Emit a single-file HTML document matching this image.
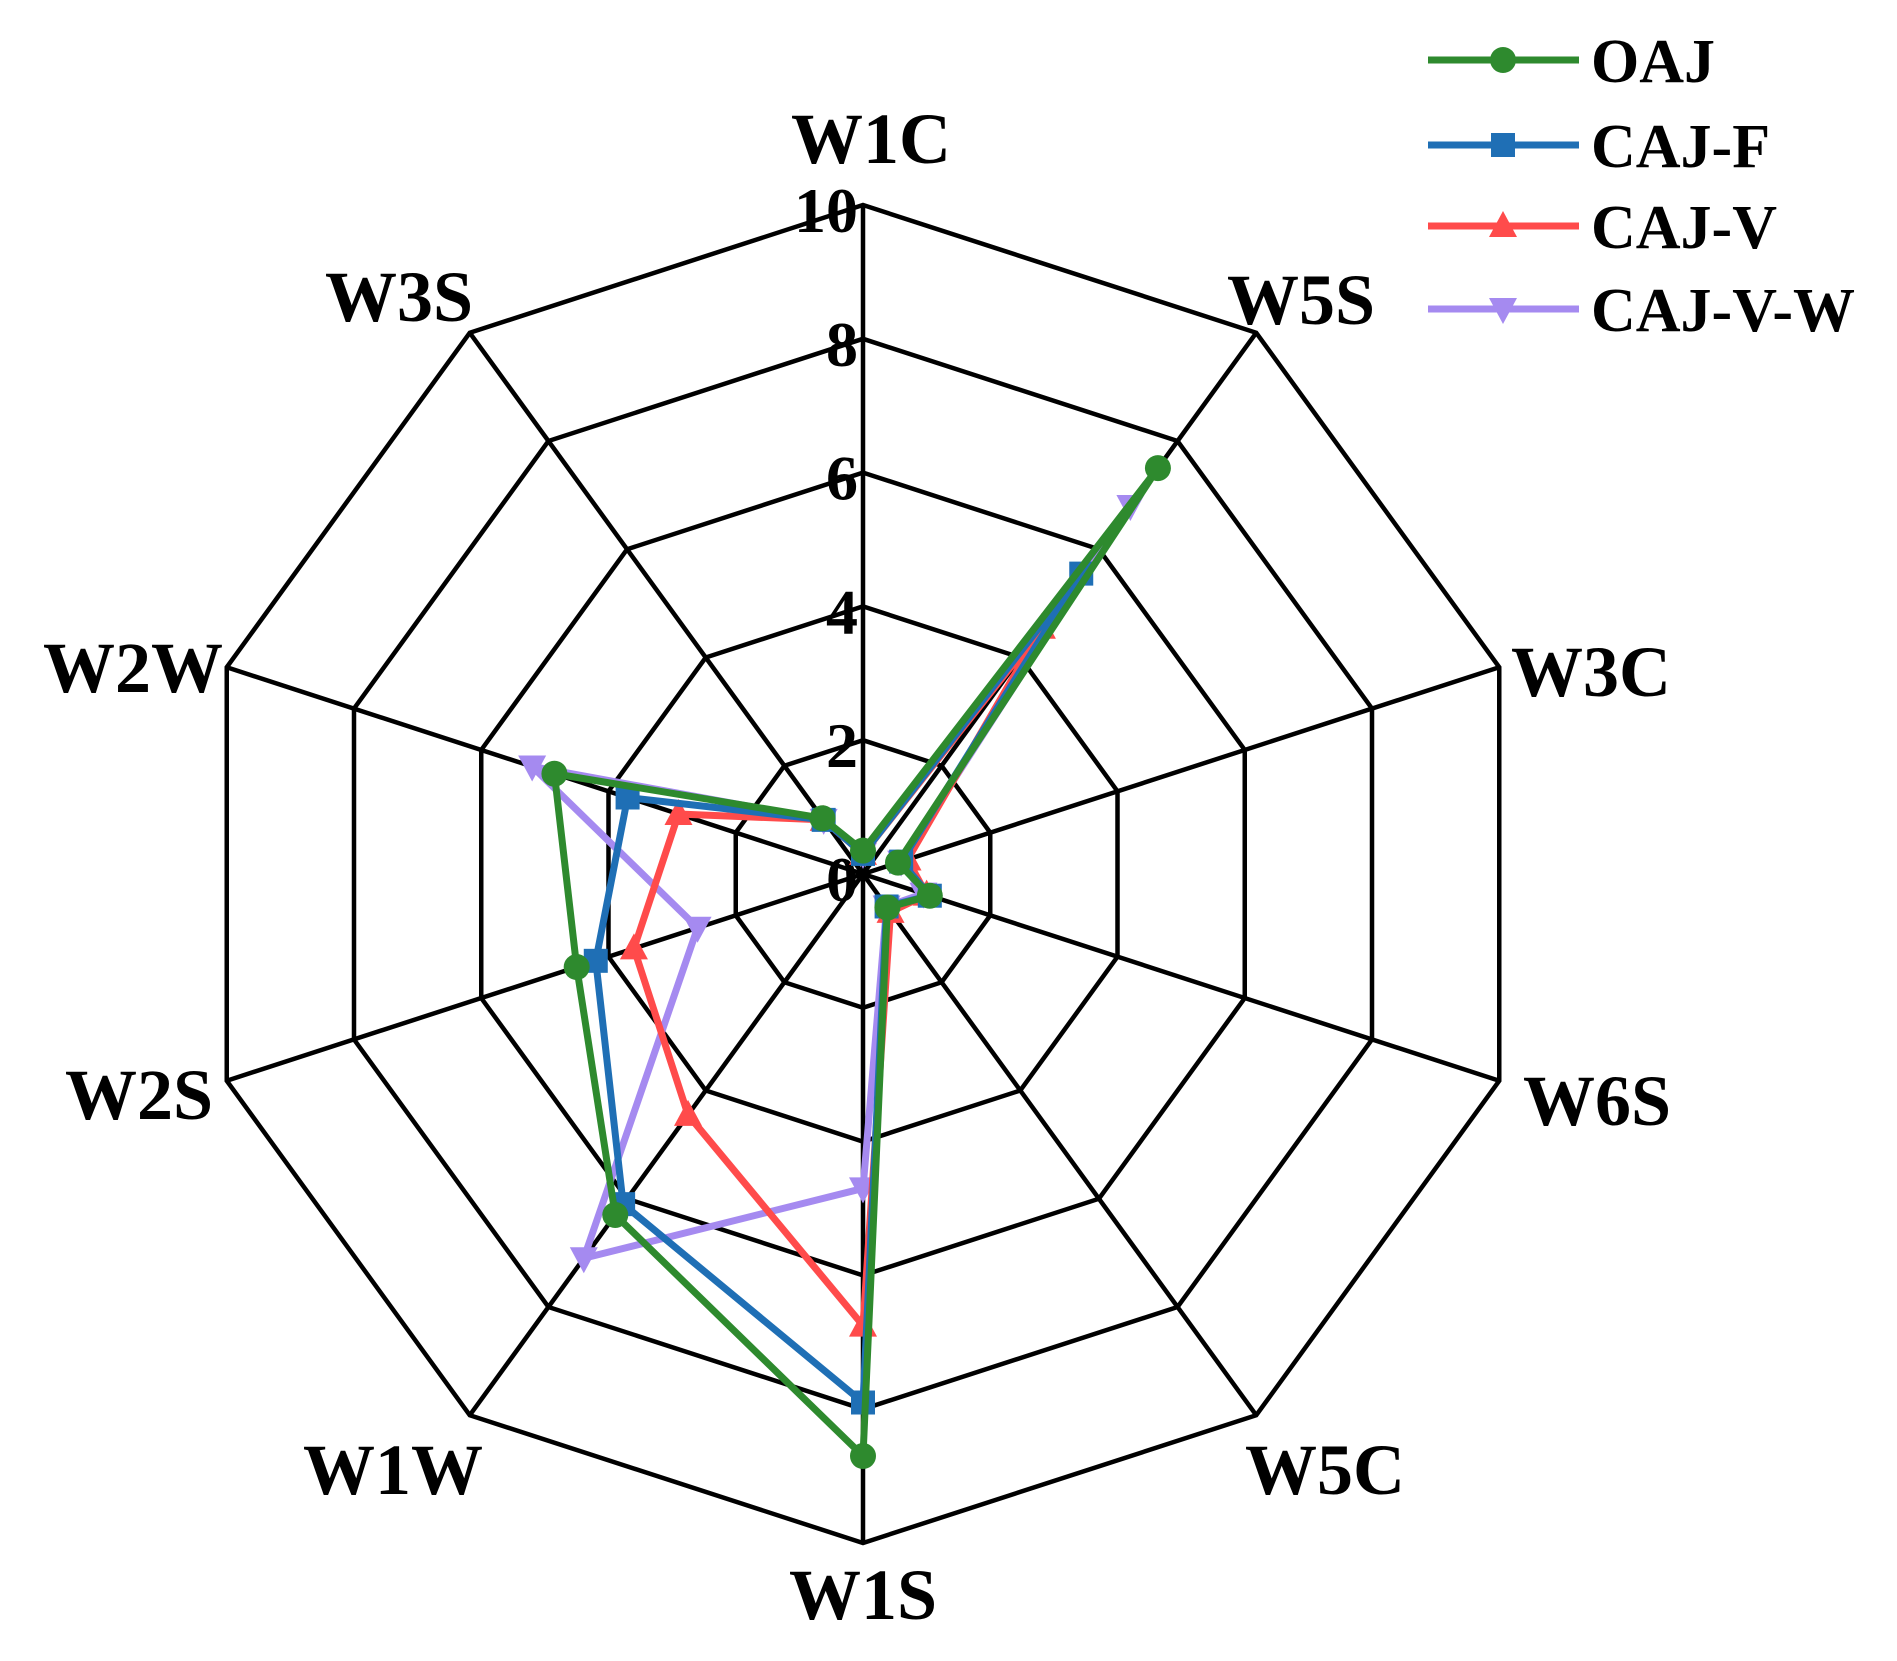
<!DOCTYPE html>
<html><head><meta charset="utf-8"><style>html,body{margin:0;padding:0;background:#fff}</style></head>
<body>
<svg id="s" width="1897" height="1656" xmlns="http://www.w3.org/2000/svg" font-family="'Liberation Serif',serif" font-weight="bold"></svg>
<script>
const cx=863,cy=874,R=669,ns="http://www.w3.org/2000/svg";
const s=document.getElementById('s');
function el(t,a,txt){const e=document.createElementNS(ns,t);for(const k in a)e.setAttribute(k,a[k]);if(txt!==undefined)e.textContent=txt;s.appendChild(e);return e;}
function pt(i,v){const a=i*Math.PI/5;return [cx+Math.sin(a)*R*v/10,cy-Math.cos(a)*R*v/10];}
for(let r=2;r<=10;r+=2){let p=[];for(let i=0;i<10;i++)p.push(pt(i,r).join(','));el('polygon',{points:p.join(' '),fill:'none',stroke:'#000','stroke-width':4.5});}
for(let i=0;i<10;i++){const p=pt(i,10);el('line',{x1:cx,y1:cy,x2:p[0],y2:p[1],stroke:'#000','stroke-width':4.5});}
for(let r=0;r<=10;r+=2){el('text',{x:858,y:cy-R*r/10+27,'font-size':64,'text-anchor':'end'},String(r));}
const labs=[['W1C',871,163],['W5S',1301,324],['W3C',1591,696],['W6S',1597,1125],['W5C',1325,1494],['W1S',863,1619],['W1W',393,1494],['W2S',139,1119],['W2W',133,692],['W3S',399,321]];
labs.forEach(l=>el('text',{x:l[1],y:l[2],'font-size':72,'text-anchor':'middle'},l[0]));
const series=[
 {c:'#a58af0',m:'vtri',d:[0.3,6.8,0.6,0.95,0.6,4.7,7.1,2.6,5.2,1.0]},
 {c:'#ff4b4b',m:'tri',d:[0.3,4.55,0.7,1.0,0.7,6.75,4.45,3.6,2.9,1.0]},
 {c:'#1f6fb5',m:'sq',d:[0.3,5.55,0.6,1.05,0.6,7.9,6.1,4.2,3.7,1.0]},
 {c:'#2e8a2e',m:'circ',d:[0.35,7.5,0.55,1.05,0.62,8.7,6.3,4.5,4.85,1.03]}];
function marker(m,x,y,c){
 if(m=='circ')el('circle',{cx:x,cy:y,r:13,fill:c});
 else if(m=='sq')el('rect',{x:x-12,y:y-12,width:24,height:24,fill:c});
 else if(m=='tri')el('polygon',{points:`${x},${y-15} ${x-14},${y+11} ${x+14},${y+11}`,fill:c});
 else el('polygon',{points:`${x},${y+15} ${x-14},${y-11} ${x+14},${y-11}`,fill:c});
}
series.forEach(se=>{const p=se.d.map((v,i)=>pt(i,v));el('polygon',{points:p.map(q=>q.join(',')).join(' '),fill:'none',stroke:se.c,'stroke-width':7,'stroke-linejoin':'round'});p.forEach(q=>marker(se.m,q[0],q[1],se.c));});
const leg=[['OAJ','#2e8a2e','circ',60],['CAJ-F','#1f6fb5','sq',145],['CAJ-V','#ff4b4b','tri',226],['CAJ-V-W','#a58af0','vtri',309]];
leg.forEach(l=>{el('line',{x1:1428,y1:l[3],x2:1579,y2:l[3],stroke:l[1],'stroke-width':7});marker(l[2],1503,l[3],l[1]);el('text',{x:1591,y:l[3]+22,'font-size':62},l[0]);});
</script>
</body></html>
